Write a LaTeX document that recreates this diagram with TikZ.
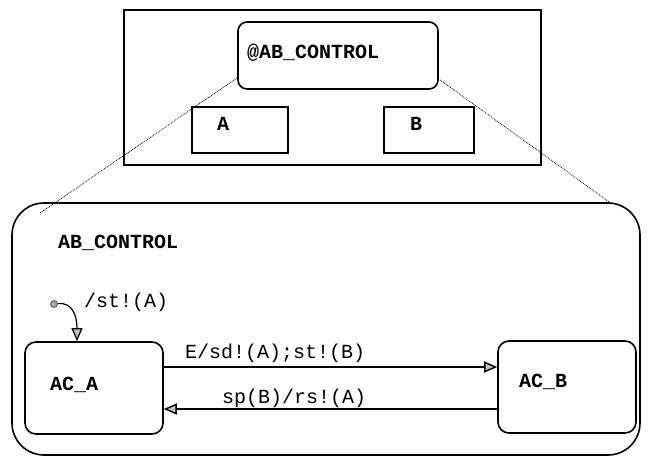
\documentclass[tikz,border=0pt]{standalone}
\usepackage{fontspec}
\setmonofont{Liberation Mono}
\usetikzlibrary{arrows.meta}
\begin{document}
\begin{tikzpicture}[x=1pt,y=-1pt,
  box/.style={draw, line width=1.6pt, inner sep=0pt},
  lbl/.style={font=\ttfamily\fontsize{20}{24}\selectfont, inner sep=0pt, anchor=base west},
  nm/.style={font=\ttfamily\bfseries\fontsize{20}{24}\selectfont, inner sep=0pt, anchor=base west},
  tr/.style={line width=1.4pt, -{Triangle[length=13pt,width=11pt,fill=gray!50]}},
  zoomline/.style={densely dotted, line width=0.8pt}]
\useasboundingbox (0,0) rectangle (650,464);
% top diagram
\node[box, minimum width=417pt, minimum height=155pt] (outer) at (332.5,87.5) {};
\node[box, rounded corners=9pt, minimum width=200pt, minimum height=67pt] (atab) at (338,55.5) {};
\node[nm] (atabt) at (247,58) {@AB\_CONTROL};
\node[box, minimum width=96pt, minimum height=46pt] (boxA) at (240,130) {};
\node[nm] (boxAt) at (217,130) {A};
\node[box, minimum width=90pt, minimum height=46pt] (boxB) at (429,130) {};
\node[nm] (boxBt) at (410,130) {B};
% big state
\node[box, rounded corners=32pt, minimum width=628pt, minimum height=252pt] (big) at (326,329) {};
\node[nm] (bigt) at (58,248) {AB\_CONTROL};
\coordinate (zl1) at (237,78);
\coordinate (zl2) at (40,213);
\coordinate (zr1) at (440,80);
\coordinate (zr2) at (612,204);
\draw[zoomline] (zl1) -- (zl2);
\draw[zoomline] (zr1) -- (zr2);
% substates
\node[box, rounded corners=11pt, minimum width=138pt, minimum height=92pt] (ACA) at (94,388) {};
\node[nm] (ACAt) at (50,390) {AC\_A};
\node[box, rounded corners=11pt, minimum width=138pt, minimum height=92pt] (ACB) at (567,387) {};
\node[nm] (ACBt) at (519,387) {AC\_B};
% default transition
\node[circle, fill=gray!70, draw=gray!40!black, line width=0.6pt, minimum size=7pt, inner sep=0pt] (init) at (54,304) {};
\draw[tr, line width=1.2pt] (init) .. controls (72,302) and (77,315) .. (ACA.north -| 77,0);
\node[lbl] (initl) at (84,307) {/st!(A)};
% transitions
\draw[tr] ([yshift=21pt]ACA.east) -- ([yshift=21pt]ACA.east -| ACB.west);
\node[lbl] (t1) at (185,358) {E/sd!(A);st!(B)};
\draw[tr] ([yshift=-22pt]ACB.west) -- ([yshift=-22pt]ACB.west -| ACA.east);
\node[lbl] (t2) at (222,403) {sp(B)/rs!(A)};
\end{tikzpicture}
\end{document}
